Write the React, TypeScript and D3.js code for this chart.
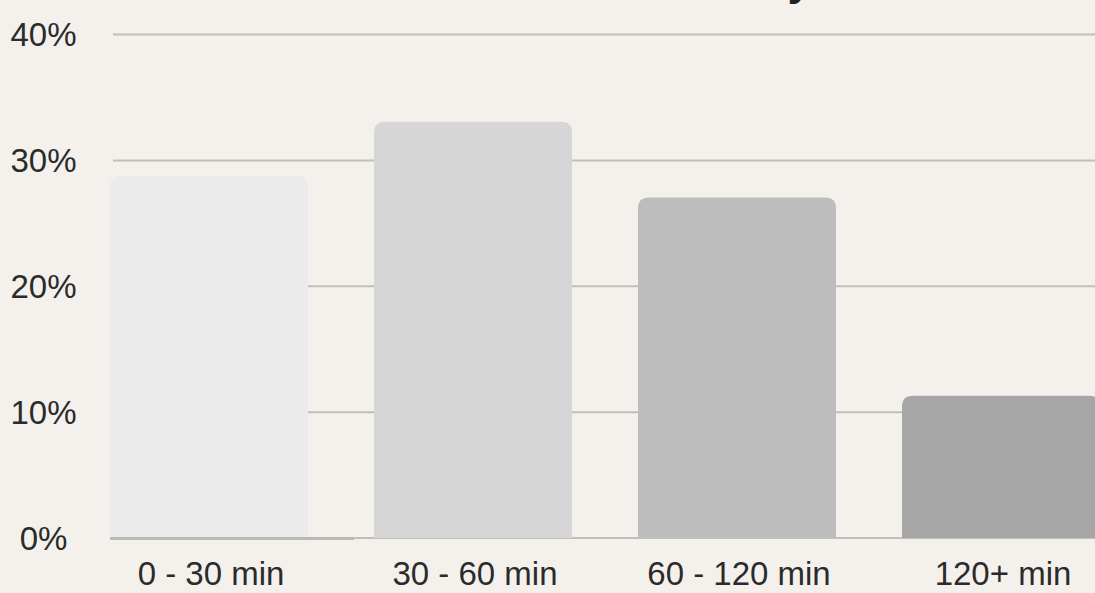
import { useEffect, useRef } from 'react';
import * as d3 from 'd3';

const categories = ['0 - 30 min', '30 - 60 min', '60 - 120 min', '120+ min'];
const shares = [28.75, 33.07, 27.06, 11.3];
const barColors = ['#ebebeb', '#d6d6d6', '#bdbdbd', '#a6a6a6'];
const yTicks = [0, 10, 20, 30, 40];
const title = 'Time in Activity';

const WIDTH = 1095;
const HEIGHT = 593;

export default function App() {
  const svgRef = useRef<SVGSVGElement>(null);

  useEffect(() => {
    if (!svgRef.current) return;
    const svg = d3.select(svgRef.current);
    svg.selectAll('*').remove();

    svg
      .append('rect')
      .attr('width', WIDTH)
      .attr('height', HEIGHT)
      .attr('fill', '#f4f1ed');

    // Scales
    const x = d3
      .scaleBand()
      .domain(categories)
      .range([77, 1133])
      .paddingInner(0.25)
      .paddingOuter(0.125);

    const y = d3.scaleLinear().domain([0, 40]).range([538, 34.5]);

    // Title (cut off by the top edge, only the descender shows)
    svg
      .append('text')
      .attr('x', 812)
      .attr('y', -5)
      .attr('text-anchor', 'end')
      .attr('font-family', '"Liberation Sans", Arial, sans-serif')
      .attr('font-weight', 700)
      .attr('font-size', 44)
      .attr('fill', '#222')
      .text(title);

    // Grid lines
    svg
      .selectAll('line.grid')
      .data(yTicks)
      .join('line')
      .attr('class', 'grid')
      .attr('x1', 113)
      .attr('x2', WIDTH)
      .attr('y1', (d) => y(d))
      .attr('y2', (d) => y(d))
      .attr('stroke', '#c2bfba')
      .attr('stroke-width', 2);

    // Y labels
    svg
      .selectAll('text.ytick')
      .data(yTicks)
      .join('text')
      .attr('class', 'ytick')
      .attr('x', 43.5)
      .attr('y', (d) => y(d))
      .attr('dy', '0.36em')
      .attr('text-anchor', 'middle')
      .attr('font-family', '"Liberation Sans", Arial, sans-serif')
      .attr('font-size', 33)
      .attr('fill', '#2b2b2b')
      .text((d) => `${d}%`);

    // Bars with rounded top corners
    const r = 11;
    const bw = x.bandwidth();
    svg
      .selectAll('path.bar')
      .data(categories)
      .join('path')
      .attr('class', 'bar')
      .attr('fill', (_, i) => barColors[i])
      .attr('d', (c, i) => {
        const x0 = x(c) || 0;
        const y0 = y(shares[i]);
        const y1 = y(0);
        return `M${x0},${y1}V${y0 + r}Q${x0},${y0} ${x0 + r},${y0}H${x0 + bw - r}Q${x0 + bw},${y0} ${x0 + bw},${y0 + r}V${y1}Z`;
      });

    // Axis baseline segment
    svg
      .append('line')
      .attr('x1', x(categories[0]) || 0)
      .attr('x2', 354)
      .attr('y1', y(0) + 0.5)
      .attr('y2', y(0) + 0.5)
      .attr('stroke', '#bcb9b4')
      .attr('stroke-width', 3);

    // X labels
    svg
      .selectAll('text.xlabel')
      .data(categories)
      .join('text')
      .attr('class', 'xlabel')
      .attr('x', (c) => (x(c) || 0) + bw / 2 + 2)
      .attr('y', 585)
      .attr('text-anchor', 'middle')
      .attr('font-family', '"Liberation Sans", Arial, sans-serif')
      .attr('font-size', 33)
      .attr('fill', '#2b2b2b')
      .text((c) => c);
  }, []);

  return (
    <svg
      ref={svgRef}
      width={WIDTH}
      height={HEIGHT}
      style={{ position: 'fixed', left: 0, top: 0, display: 'block' }}
    />
  );
}
